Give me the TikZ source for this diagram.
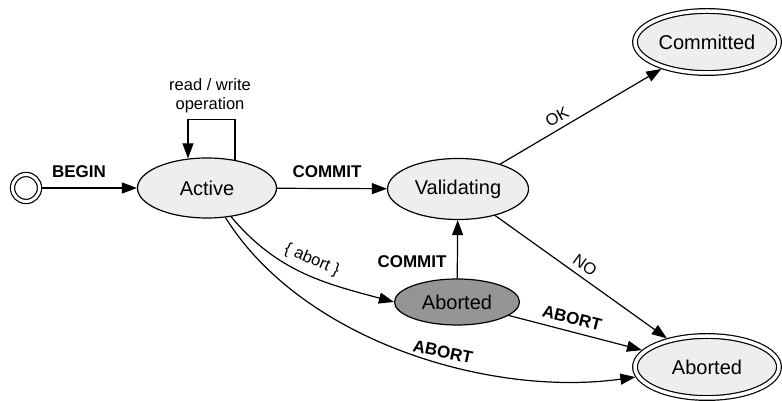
\documentclass[tikz,border=0pt]{standalone}
\usepackage{fontspec}
\setmainfont{Liberation Sans}
\usetikzlibrary{shapes.geometric,arrows.meta}
\definecolor{lightfill}{HTML}{EEEEEE}
\definecolor{darkfill}{HTML}{959595}
\tikzset{
  statebox/.style={ellipse, draw, line width=1.2pt, fill=lightfill, inner sep=0pt,
    font=\fontsize{20}{24}\selectfont},
  finalbox/.style={statebox, double, double distance=3.5pt, outer sep=3pt,
    minimum width=144pt, minimum height=62pt},
  startbox/.style={circle, draw, line width=1.2pt, double, double distance=3pt,
    fill=white, minimum size=27pt, inner sep=0pt, outer sep=2.7pt},
  arr/.style={draw, line width=1.2pt, -{Triangle[length=15pt,width=11pt]}},
  blab/.style={font=\fontsize{17}{20}\selectfont\bfseries, inner sep=0pt},
  rlab/.style={font=\fontsize{16.5}{19}\selectfont, inner sep=0pt, align=center},
}
\begin{document}
\begin{tikzpicture}[x=1pt,y=1pt]
\useasboundingbox (0,0) rectangle (782,401);
% nodes
\node[startbox] (start) at (26,213) {};
\node[statebox, minimum width=139pt, minimum height=60pt] (active) at (207,213) {Active};
\node[statebox, minimum width=141pt, minimum height=61pt] (valid) at (458,212) {Validating};
\node[statebox, fill=darkfill, minimum width=125pt, minimum height=46pt] (abortg) at (457,99) {Aborted};
\node[finalbox] (committed) at (707,359) {Committed};
\node[finalbox] (abortf) at (707,34) {Aborted};
% edges
\draw[arr] (start) -- (active);
\draw[arr] ([xshift=28pt,yshift=-2.5pt]active.north) -- ++(0,40) -| ([xshift=-19pt,yshift=-1pt]active.north);
\draw[arr] (active) -- (valid);
\draw[arr] (valid) -- (committed);
\draw[arr] (valid) -- (abortf);
\draw[arr] (active) to[out=-50,in=165] (abortg.west);
\draw[arr] (abortg) -- (valid);
\draw[arr] (abortg) -- (abortf);
\draw[arr] (active) to[out=-58,in=188,looseness=0.85] (abortf);
% labels
\node[blab] (lbegin) at (79,229) {BEGIN};
\node[rlab] (lloop) at (210,305) {read / write\\operation};
\node[blab] (lcommit1) at (327,229) {COMMIT};
\node[rlab, rotate=29] (lok) at (557,284) {OK};
\node[rlab, rotate=-36] (lno) at (585,136) {NO};
\node[rlab, rotate=-23] (labort) at (312,141) {\{ abort \}};
\node[blab] (lcommit2) at (412,139) {COMMIT};
\node[blab, rotate=-14] (lab1) at (572,83) {ABORT};
\node[blab, rotate=-12] (lab2) at (443,49) {ABORT};
\end{tikzpicture}
\end{document}
